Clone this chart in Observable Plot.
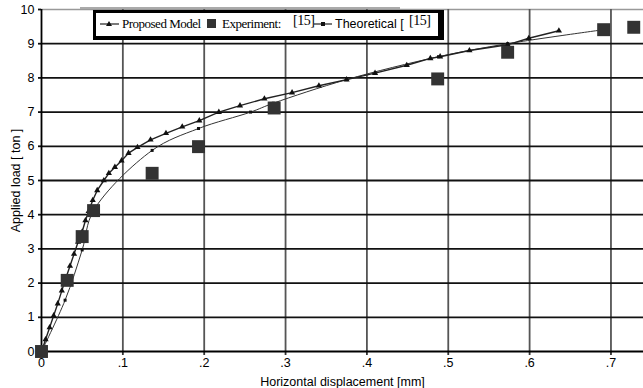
<!DOCTYPE html>
<html>
<head>
<meta charset="utf-8">
<script src="https://cdn.jsdelivr.net/npm/d3@7"></script>
<script src="https://cdn.jsdelivr.net/npm/@observablehq/plot@0.6"></script>
<style>
  body { margin: 0; background: #fff; }
  #wrap { position: relative; width: 643px; height: 388px; overflow: hidden; background: #fff; }
  #legend { position: absolute; left: 93px; top: 10px; width: 342px; height: 23px;
            border: 3px solid #000; border-bottom-width: 4px; border-right-width: 6px;
            background: #fff; overflow: hidden; white-space: nowrap; }
  #shadow { position: absolute; left: 80px; top: 7px; width: 320px; height: 2px; background: #aaa; }
  #legend span { position: absolute; line-height: 1; }
  .serif { font-family: "Liberation Serif", "Times New Roman", serif; font-size: 13px; letter-spacing: -0.5px; }
  .sans { font-family: "Liberation Sans Narrow", "Liberation Sans", Arial, sans-serif; font-size: 12.5px; }
</style>
</head>
<body>
<div id="wrap"></div>
<script>
// ---- data ----
const xTicks = [0, 0.1, 0.2, 0.3, 0.4, 0.5, 0.6, 0.7];
const xTickLabels = ["0", ".1", ".2", ".3", ".4", ".5", ".6", ".7"];
const yTicks = [0, 1, 2, 3, 4, 5, 6, 7, 8, 9, 10];

const proposedX = [0, 0.005, 0.01, 0.015, 0.02, 0.025, 0.03, 0.035, 0.04, 0.045, 0.05, 0.054, 0.058, 0.063, 0.0685, 0.0766, 0.0828, 0.0902, 0.0984, 0.107, 0.118, 0.134, 0.153, 0.173, 0.194, 0.218, 0.244, 0.274, 0.308, 0.341, 0.375, 0.41, 0.449, 0.478, 0.49, 0.526, 0.573, 0.599, 0.636];
const proposedY = [0, 0.35, 0.7, 1.05, 1.4, 1.78, 2.15, 2.5, 2.85, 3.2, 3.5, 3.83, 4.1, 4.42, 4.71, 5.0, 5.21, 5.39, 5.58, 5.8, 5.97, 6.19, 6.38, 6.57, 6.75, 7.0, 7.19, 7.39, 7.57, 7.77, 7.95, 8.14, 8.37, 8.57, 8.62, 8.8, 8.97, 9.16, 9.38];

const experimentX = [0, 0.0316, 0.05, 0.064, 0.136, 0.193, 0.286, 0.487, 0.573, 0.691, 0.728];
const experimentY = [0, 2.08, 3.36, 4.12, 5.21, 5.99, 7.12, 7.97, 8.75, 9.41, 9.48];

const theoreticalX = [0, 0.029, 0.05, 0.064, 0.136, 0.193, 0.257, 0.285, 0.375, 0.488, 0.573, 0.691];
const theoreticalY = [0, 1.5, 2.97, 4.12, 5.88, 6.52, 7.0, 7.26, 7.95, 8.62, 9.0, 9.41];

// ---- tables ----
const proposed = proposedX.map((x, i) => ({x, y: proposedY[i]}));
const experiment = experimentX.map((x, i) => ({x, y: experimentY[i]}));
const theoretical = theoreticalX.map((x, i) => ({x, y: theoreticalY[i]}));

const chart = Plot.plot({
  width: 643,
  height: 388,
  marginLeft: 41,
  marginRight: 0,
  marginTop: 9,
  marginBottom: 37,
  style: {fontFamily: "'Liberation Sans Narrow', 'Liberation Sans', Arial, sans-serif", fontSize: "12.5px", color: "#000", background: "#fff"},
  x: {domain: [0, 0.74]},
  y: {domain: [0, 10]},
  marks: [
    Plot.ruleY([10], {stroke: "#999", strokeWidth: 1.5}),
    Plot.ruleX(xTicks.slice(1), {y1: 0, y2: 10, stroke: "#555", strokeWidth: 1.8}),
    Plot.ruleY(yTicks.slice(1, 10), {stroke: "#111", strokeWidth: 1.8}),
    Plot.axisX(xTicks, {tickSize: 4, tickPadding: 3, tickFormat: (d, i) => xTickLabels[i], stroke: "#333", strokeWidth: 1.8,
      fontSize: 12.5, label: "Horizontal displacement [mm]", labelAnchor: "center", labelOffset: 34, labelArrow: "none"}),
    Plot.axisY(yTicks, {tickSize: 3, tickPadding: 4, stroke: "#111", strokeWidth: 1.8,
      fontSize: 12.5, label: "Applied load [ ton ]", labelAnchor: "center", labelOffset: 30, labelArrow: "none"}),
    Plot.ruleX([0], {stroke: "#000", strokeWidth: 1.8}),
    Plot.ruleY([0], {stroke: "#000", strokeWidth: 1.8}),
    Plot.line(theoretical, {x: "x", y: "y", stroke: "#333", strokeWidth: 1, curve: "catmull-rom"}),
    Plot.line(proposed, {x: "x", y: "y", stroke: "#222", strokeWidth: 1.4}),
    Plot.dot(proposed, {x: "x", y: "y", symbol: "triangle", r: 2.3, fill: "#111"}),
    Plot.dot(theoretical, {x: "x", y: "y", symbol: "square", r: 1.7, fill: "#111"}),
    Plot.dot(experiment, {x: "x", y: "y", symbol: "square", r: 7.3, fill: "#333"})
  ]
});

const wrap = document.getElementById("wrap");
wrap.appendChild(chart);

const shadow = document.createElement("div");
shadow.id = "shadow";
wrap.appendChild(shadow);

const legend = document.createElement("div");
legend.id = "legend";
legend.innerHTML = `
  <svg width="342" height="23" style="position:absolute;left:0;top:0">
    <line x1="4" x2="23" y1="11" y2="11" stroke="#222" stroke-width="1.2"/>
    <path d="M13,8 L16,13 L10,13 Z" fill="#111"/>
    <rect x="111" y="6" width="9" height="9" fill="#333"/>
    <line x1="218" x2="236" y1="11" y2="11" stroke="#222" stroke-width="1.2"/>
    <rect x="225" y="9" width="4" height="4" fill="#111"/>
  </svg>
  <span class="serif" style="left:26px;top:4px">Proposed Model</span>
  <span class="serif" style="left:126px;top:4px">Experiment:</span>
  <span class="serif" style="left:197px;top:1px;font-size:14px">[15]</span>
  <span class="sans" style="left:239px;top:5px">Theoretical [</span>
  <span class="serif" style="left:313px;top:1px;font-size:14px">[15]</span>
`;
wrap.appendChild(legend);
</script>
</body>
</html>
